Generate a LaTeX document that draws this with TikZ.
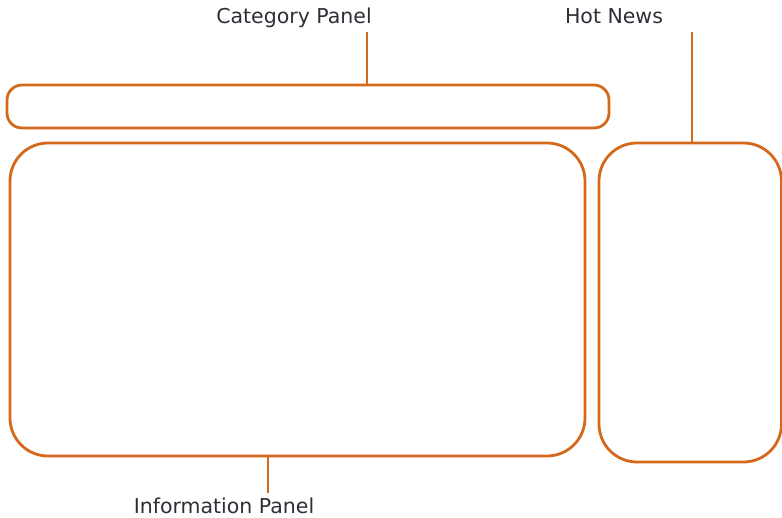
\documentclass[tikz,border=0pt]{standalone}
\usepackage{fontspec}
\setmainfont{DejaVu Sans}
\definecolor{panelorange}{HTML}{D4691C}
\definecolor{labelgray}{HTML}{2B2F36}
\begin{document}
\begin{tikzpicture}[x=1pt,y=-1pt,
  panel/.style={draw=panelorange,line width=2.8pt},
  lead/.style={draw=panelorange,line width=2.8pt},
  lbl/.style={text=labelgray,font=\fontsize{20.5}{24}\selectfont,inner sep=0pt,anchor=base}]
\useasboundingbox (0,0) rectangle (782,518);
\begin{scope}
\clip (0,0) rectangle (782,518);
\draw[panel,rounded corners=15pt] (7,85) rectangle (609,128);
\draw[panel,rounded corners=38pt] (10,143) rectangle (585,456);
\draw[panel,rounded corners=38pt] (599,143) rectangle (781.5,462);
\end{scope}
\coordinate (cattop) at (367,85);
\coordinate (hottop) at (692,143);
\coordinate (infobot) at (268,456);
\node[lbl] (catlbl) at (294,24) {Category Panel};
\node[lbl] (hotlbl) at (614,24) {Hot News};
\node[lbl] (infolbl) at (224,513) {Information Panel};
\coordinate (catend) at (367,32);
\coordinate (hotend) at (692,32);
\coordinate (infoend) at (268,493);
\draw[lead] (catend) -- (cattop);
\draw[lead] (hotend) -- (hottop);
\draw[lead] (infobot) -- (infoend);
\end{tikzpicture}
\end{document}
